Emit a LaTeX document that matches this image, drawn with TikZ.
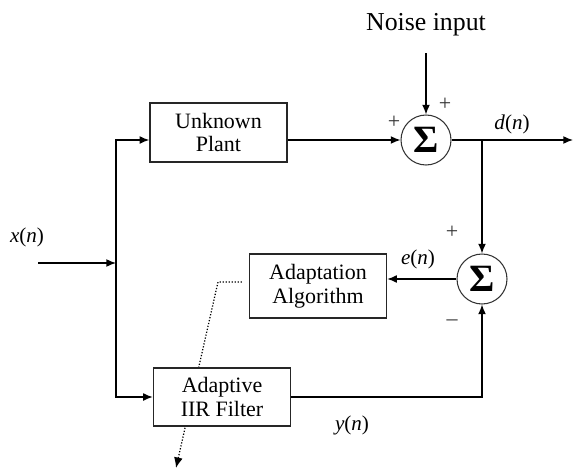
\documentclass[tikz,border=0pt]{standalone}
\usepackage{fontspec}
\setmainfont{Liberation Serif}
\usetikzlibrary{arrows.meta}

\begin{document}
\begin{tikzpicture}[x=0.02cm,y=-0.02cm,->,>={Latex[length=5.5pt,width=4.5pt]},line width=0.8pt]
   \useasboundingbox (0,0) rectangle (574,473);
   \tikzstyle{block}=[draw=black!85, fill=white, align=center, minimum width=2.74cm, font=\fontsize{12.5}{13.5}\selectfont]
   \tikzstyle{sum}=[circle, draw=black!80, line width=0.6pt, minimum size=1cm, inner sep=0pt, font=\fontsize{22}{23}\selectfont\bfseries]
   \tikzstyle{sig}=[font=\fontsize{12}{13}\selectfont]
   \tikzstyle{sgn}=[font=\fontsize{12.5}{13}\selectfont, text=black!80]
   \node[block, minimum height=1.18cm] (plant) at (218.5,132.5) {Unknown\\Plant};
   \node[sum] (sum1) at (426,140) {Σ};
   \node[sum] (sum2) at (482,279) {Σ};
   \node[block, minimum height=1.28cm] (adapt) at (318,286) {Adaptation\\Algorithm};
   \node[font=\fontsize{14.7}{16}\selectfont] (noise) at (426,25) {Noise input};
   % tuning path runs behind the filter box
   \coordinate (tune) at (218,282);
   \coordinate (tuned) at (176,468);
   \draw[densely dotted, line width=0.7pt, -{Latex[length=6pt,width=5pt]}] ([xshift=-4]adapt.west |- tune) -- (tune) -- (tuned);
   \node[block, minimum height=1.16cm] (filter) at (222,397) {Adaptive\\IIR Filter};
   % input and split
   \coordinate (xin) at (38,263);
   \coordinate (split) at (116,263);
   \coordinate (dout) at (573,140);
   \path (xin) edge (split);
   \draw (split) |- (plant.west |- sum1);
   \draw (split) |- (filter);
   \draw (plant.east |- sum1) -- (sum1);
   \draw ([yshift=-6]noise.south) -- (sum1);
   \draw (sum1) -- (dout);
   \draw (sum1 -| sum2) -- (sum2);
   \draw (sum2) -- (adapt.east |- sum2);
   \draw (filter) -| (sum2);
   % signal labels and signs
   \foreach \name/\pos/\txt in {xn/{27,237}/{\textit{x}(\textit{n})}, dn/{512,124}/{\textit{d}(\textit{n})}, en/{418,259}/{\textit{e}(\textit{n})}, yn/{352,425}/{\textit{y}(\textit{n})}} {
       \node[sig] (\name) at (\pos) {\txt};
   }
   \foreach \name/\pos/\txt in {p1/{394,122}/+, p2/{445,104}/+, p3/{452,232}/+, m3/{452,323}/{--}} {
       \node[sgn] (\name) at (\pos) {\txt};
   }
\end{tikzpicture}
\end{document}
